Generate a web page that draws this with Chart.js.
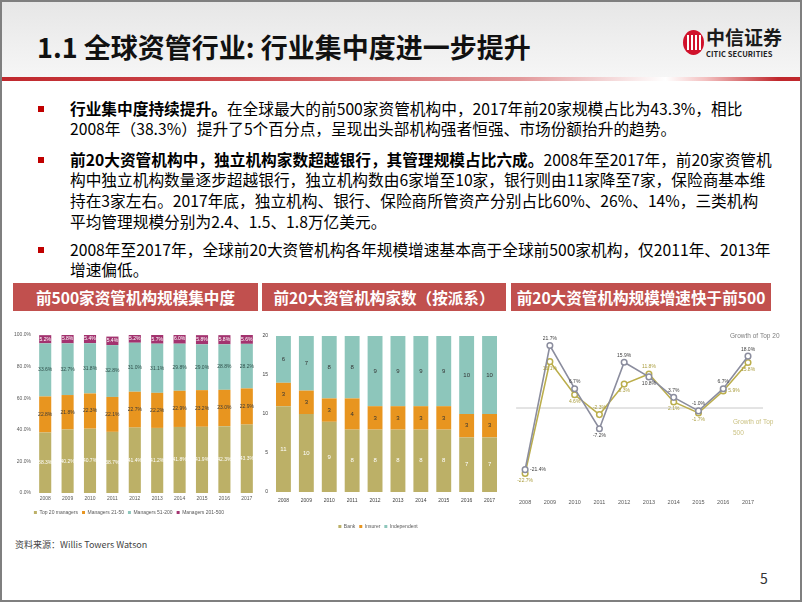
<!DOCTYPE html>
<html lang="zh-CN">
<head>
<meta charset="utf-8">
<script src="https://cdn.jsdelivr.net/npm/chart.js@4.4.1/dist/chart.umd.min.js"></script>
<style>
  body { margin: 0; background: #fff; }
  #slide { position: relative; width: 802px; height: 602px; overflow: hidden; background: #fff;
           font-family: "Noto Sans CJK SC", "Noto Sans", sans-serif; color: #000; }
  #frame { position: absolute; left: 0; top: 0; width: 802px; height: 602px; box-sizing: border-box;
           border: 2px solid #7f7f7f; pointer-events: none; }
  #header { position: absolute; left: 0; top: 0; width: 802px; height: 77px;
            background: linear-gradient(#e6e6e6, #f6f6f6); }
  #title { position: absolute; left: 37px; top: 32px; font-size: 27px; line-height: 29px; font-weight: 700;
           white-space: nowrap; color: #111; }
  #redline { position: absolute; left: 0; top: 77px; width: 802px; height: 4px;
             background: linear-gradient(to right, #c0282d 0%, #cc4a4e 30%, #e39a9c 65%, #fff 83%, #f3c0c0 88%, #c0282d 97%); }
  #logo { position: absolute; left: 683px; top: 30px; width: 21px; height: 25px; border-radius: 50%; background: #d0112b; overflow: hidden; }
  #logo span { position: absolute; top: 5px; width: 2px; height: 15px; background: #fff; }
  #brand { position: absolute; left: 706px; top: 26px; font-size: 19px; line-height: 22px; font-weight: 700; color: #1b1b1b; white-space: nowrap; }
  #brand2 { position: absolute; left: 706px; top: 49px; font-size: 7.5px; line-height: 9px; font-weight: 700; color: #222; white-space: nowrap; letter-spacing: 0.1px; }
  .bul { position: absolute; left: 70px; font-size: 15.7px; line-height: 20.7px; white-space: nowrap; color: #000; }
  .sq { position: absolute; left: 38px; width: 6px; height: 6px; background: #c00000; }
  .cap { position: absolute; top: 283px; height: 28px; background: #c1504e; color: #fff; font-size: 15.6px;
         font-weight: 700; line-height: 28px; text-align: center; white-space: nowrap; }
  .box { position: absolute; }
  #src { position: absolute; left: 15px; top: 538px; font-size: 9px; color: #444; white-space: nowrap; }
  #page { position: absolute; left: 760px; top: 568px; font-size: 14px; color: #333; }
</style>
</head>
<body>
<div id="slide">
  <div id="header"></div>
  <div id="title">1.1 全球资管行业: 行业集中度进一步提升</div>
  <div id="logo"><span style="left:4px"></span><span style="left:8px"></span><span style="left:12px"></span><span style="left:16px"></span></div>
  <div id="brand">中信证券</div>
  <div id="brand2">CITIC SECURITIES</div>
  <div id="redline"></div>

  <div class="sq" style="top:106px"></div>
  <div class="bul" style="top:98.6px"><b>行业集中度持续提升。</b>在全球最大的前500家资管机构中，2017年前20家规模占比为43.3%，相比<br>2008年（38.3%）提升了5个百分点，呈现出头部机构强者恒强、市场份额抬升的趋势。</div>
  <div class="sq" style="top:157px"></div>
  <div class="bul" style="top:149.6px"><b>前20大资管机构中，独立机构家数超越银行，其管理规模占比六成。</b>2008年至2017年，前20家资管机<br>构中独立机构数量逐步超越银行，独立机构数由6家增至10家，银行则由11家降至7家，保险商基本维<br>持在3家左右。2017年底，独立机构、银行、保险商所管资产分别占比60%、26%、14%，三类机构<br>平均管理规模分别为2.4、1.5、1.8万亿美元。</div>
  <div class="sq" style="top:247px"></div>
  <div class="bul" style="top:239.6px">2008年至2017年，全球前20大资管机构各年规模增速基本高于全球前500家机构，仅2011年、2013年<br>增速偏低。</div>

  <div class="cap" style="left:13px;width:245px">前500家资管机构规模集中度</div>
  <div class="cap" style="left:262px;width:244px">前20大资管机构家数（按派系）</div>
  <div class="cap" style="left:511px;width:260px">前20大资管机构规模增速快于前500</div>

  <div class="box" style="left:0px;top:325px;width:262px;height:200px"><canvas id="c1"></canvas></div>
  <div class="box" style="left:255px;top:325px;width:250px;height:214px"><canvas id="c2"></canvas></div>
  <div class="box" style="left:500px;top:325px;width:300px;height:200px"><canvas id="c3"></canvas></div>

  <div id="src">资料来源：Willis Towers Watson</div>
  <div id="page">5</div>
  <div id="frame"></div>
</div>

<script>
// 年份
const years = ['2008', '2009', '2010', '2011', '2012', '2013', '2014', '2015', '2016', '2017'];

// 图1：前500家资管机构规模占比 (%)
const top20Share = [38.3, 40.2, 40.7, 38.7, 41.4, 41.2, 41.8, 41.9, 42.3, 43.3];
const mgr21to50Share = [22.8, 21.8, 22.3, 22.1, 22.7, 22.2, 22.9, 23.2, 23.0, 22.9];
const mgr51to200Share = [33.6, 32.7, 31.8, 32.8, 31.0, 31.1, 29.8, 29.0, 28.8, 28.2];
const mgr201to500Share = [5.2, 5.8, 5.4, 5.4, 5.2, 5.7, 6.0, 5.8, 5.8, 5.6];
const shareTicks = [0, 20, 40, 60, 80, 100];

// 图2：前20大资管机构家数
const bankCount = [11, 10, 9, 8, 8, 8, 8, 8, 7, 7];
const insurerCount = [3, 3, 3, 4, 3, 3, 3, 3, 3, 3];
const independentCount = [6, 7, 8, 8, 9, 9, 9, 9, 10, 10];
const countTicks = [0, 5, 10, 15, 20];

// 图3：规模增速 (%)
const growthTop20 = [-21.4, 21.7, 6.7, -7.2, 15.9, 10.8, 3.7, -1.0, 6.7, 18.0];
const growthTop500 = [-22.7, 16.1, 4.6, -2.3, 8.3, 11.8, 2.1, -1.7, 5.9, 15.8];

const olive = '#bcb067';
const orange = '#e8951f';
const teal = '#8dc6bb';
const purple = '#a3336f';
const tickFont = { family: 'Liberation Sans', size: 5 };

// 柱内数值
const barLabels = {
  id: 'barLabels',
  afterDatasetsDraw(chart, args, opts) {
    const ctx = chart.ctx;
    ctx.save();
    ctx.font = opts.font;
    ctx.textAlign = 'center';
    ctx.textBaseline = 'middle';
    chart.data.datasets.forEach((ds, i) => {
      const meta = chart.getDatasetMeta(i);
      meta.data.forEach((bar, j) => {
        ctx.fillStyle = opts.colors[i];
        ctx.fillText(opts.format(ds.data[j]), bar.x, (bar.y + bar.base) / 2);
      });
    });
    ctx.restore();
  }
};

const fixedWidth = w => axis => { axis.width = w; };
const fixedHeight = h => axis => { axis.height = h; };

new Chart(document.getElementById('c1'), {
  type: 'bar',
  data: {
    labels: years,
    datasets: [
      { label: 'Top 20 managers', data: top20Share, backgroundColor: olive },
      { label: 'Managers 21-50', data: mgr21to50Share, backgroundColor: orange },
      { label: 'Managers 51-200', data: mgr51to200Share, backgroundColor: teal },
      { label: 'Managers 201-500', data: mgr201to500Share, backgroundColor: purple }
    ]
  },
  options: {
    responsive: true,
    maintainAspectRatio: false,
    animation: false,
    layout: { padding: { top: 10, right: 4 } },
    datasets: { bar: { barPercentage: 0.54, categoryPercentage: 1 } },
    scales: {
      x: {
        stacked: true,
        grid: { display: false, drawTicks: false },
        border: { display: false },
        ticks: { font: tickFont, color: '#595959', padding: 3 },
        afterFit: fixedHeight(13)
      },
      y: {
        stacked: true,
        min: 0,
        max: 100,
        afterBuildTicks: axis => { axis.ticks = shareTicks.map(v => ({ value: v })); },
        grid: { display: false, drawTicks: false },
        border: { display: false },
        ticks: { font: tickFont, color: '#595959', padding: 3, callback: v => v.toFixed(1) + '%' },
        afterFit: fixedWidth(34)
      }
    },
    plugins: {
      legend: {
        position: 'bottom',
        labels: { boxWidth: 3, boxHeight: 3, padding: 4, font: tickFont, color: '#595959' }
      },
      tooltip: { enabled: false },
      barLabels: {
        font: '5px "Liberation Sans"',
        colors: ['#ffffff', '#3a3a3a', '#2f4f4a', '#ffffff'],
        format: v => v.toFixed(1) + '%'
      }
    }
  },
  plugins: [barLabels]
});

new Chart(document.getElementById('c2'), {
  type: 'bar',
  data: {
    labels: years,
    datasets: [
      { label: 'Bank', data: bankCount, backgroundColor: olive },
      { label: 'Insurer', data: insurerCount, backgroundColor: orange },
      { label: 'Independent', data: independentCount, backgroundColor: teal }
    ]
  },
  options: {
    responsive: true,
    maintainAspectRatio: false,
    animation: false,
    layout: { padding: { top: 11, right: 4 } },
    datasets: { bar: { barPercentage: 0.65, categoryPercentage: 1 } },
    scales: {
      x: {
        stacked: true,
        grid: { display: false, drawTicks: false },
        border: { display: false },
        ticks: { font: tickFont, color: '#404040', padding: 6 },
        afterFit: fixedHeight(28)
      },
      y: {
        stacked: true,
        min: 0,
        max: 20,
        afterBuildTicks: axis => { axis.ticks = countTicks.map(v => ({ value: v })); },
        grid: { display: false, drawTicks: false },
        border: { display: false },
        ticks: { font: tickFont, color: '#404040', padding: 4 },
        afterFit: fixedWidth(17)
      }
    },
    plugins: {
      legend: {
        position: 'bottom',
        labels: { boxWidth: 3, boxHeight: 3, padding: 4, font: tickFont, color: '#595959' }
      },
      tooltip: { enabled: false },
      barLabels: {
        font: '6px "Liberation Sans"',
        colors: ['#ffffff', '#333333', '#333333'],
        format: v => String(v)
      }
    }
  },
  plugins: [barLabels]
});

// 增速图：零线、数值、系列名
const growthDecor = {
  id: 'growthDecor',
  beforeDatasetsDraw(chart) {
    const { ctx, chartArea } = chart;
    const y0 = chart.scales.y.getPixelForValue(0);
    ctx.save();
    ctx.strokeStyle = '#c8c8c8';
    ctx.lineWidth = 1;
    ctx.beginPath();
    ctx.moveTo(chartArea.left - 9, y0);
    ctx.lineTo(chartArea.right + 15, y0);
    ctx.stroke();
    ctx.restore();
  },
  afterDatasetsDraw(chart, args, opts) {
    const { ctx, chartArea } = chart;
    ctx.save();
    ctx.font = '5px "Liberation Sans"';
    ctx.textBaseline = 'middle';
    chart.data.datasets.forEach((ds, i) => {
      const meta = chart.getDatasetMeta(i);
      meta.data.forEach((pt, j) => {
        const place = opts.placement[i][j];
        let x = pt.x, y = pt.y;
        ctx.textAlign = 'center';
        if (place === 'above') y -= 7;
        else if (place === 'below') y += 7;
        else if (place === 'right') { x += 5; ctx.textAlign = 'left'; }
        ctx.fillStyle = opts.colors[i];
        ctx.fillText(ds.data[j].toFixed(1) + '%', x, y);
      });
    });
    const y0 = chart.scales.y.getPixelForValue(0);
    ctx.font = '6.5px "Liberation Sans"';
    ctx.textAlign = 'left';
    ctx.fillStyle = '#7f7f7f';
    ctx.fillText(chart.data.datasets[0].label, chartArea.right - 18, chartArea.top);
    ctx.fillStyle = '#cbc283';
    ctx.fillText('Growth of Top', chartArea.right - 15, y0 + 14);
    ctx.fillText('500', chartArea.right - 15, y0 + 25);
    ctx.restore();
  }
};

new Chart(document.getElementById('c3'), {
  type: 'line',
  data: {
    labels: years,
    datasets: [
      { label: 'Growth of Top 20', data: growthTop20, borderColor: '#8b8d9e', pointBorderColor: '#8b8d9e' },
      { label: 'Growth of Top 500', data: growthTop500, borderColor: '#bbae4c', pointBorderColor: '#bbae4c' }
    ]
  },
  options: {
    responsive: true,
    maintainAspectRatio: false,
    animation: false,
    layout: { padding: { top: 11, left: 12, right: 52 } },
    elements: {
      line: { borderWidth: 1.6, tension: 0 },
      point: { radius: 2.8, borderWidth: 1.5, backgroundColor: '#ffffff' }
    },
    scales: {
      x: {
        grid: { display: false, drawTicks: false },
        border: { display: false },
        ticks: { font: { family: 'Liberation Sans', size: 5.5 }, color: '#595959', padding: 19 },
        afterFit: fixedHeight(45)
      },
      y: { display: false, min: -25, max: 25 }
    },
    plugins: {
      legend: { display: false },
      tooltip: { enabled: false },
      growthDecor: {
        colors: ['#404040', '#a99c3c'],
        placement: [
          ['right', 'above', 'above', 'below', 'above', 'below', 'above', 'above', 'above', 'above'],
          ['below', 'below', 'below', 'above', 'below', 'above', 'below', 'below', 'right', 'below']
        ]
      }
    }
  },
  plugins: [growthDecor]
});
</script>
</body>
</html>
